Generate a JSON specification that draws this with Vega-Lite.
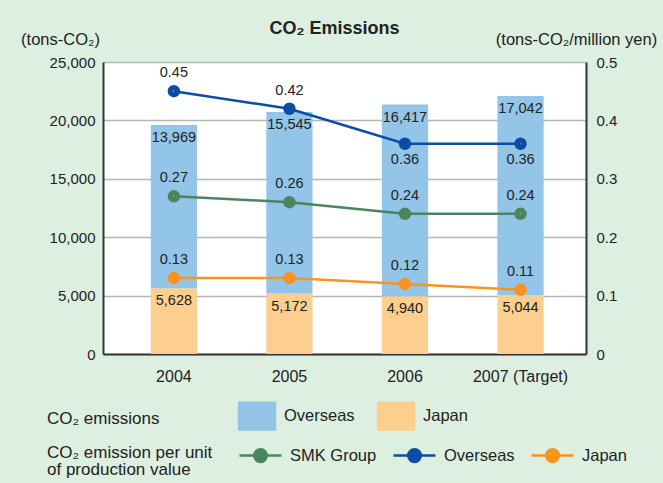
{
  "$schema": "https://vega.github.io/schema/vega-lite/v6.json",
  "width": 483,
  "height": 292,
  "autosize": {"type": "none"},
  "padding": {"left": 103, "top": 62, "right": 77, "bottom": 129},
  "background": "#ddefe1",
  "view": {"fill": "white", "stroke": null},
  "config": {
    "font": "Liberation Sans",
    "axis": {"labelColor": "#222", "titleColor": "#222", "labelFont": "Liberation Sans", "titleFont": "Liberation Sans"},
    "legend": {"padding": 0, "offset": 0}
  },
  "title": {
    "text": "CO₂ Emissions",
    "fontSize": 18,
    "fontWeight": "bold",
    "color": "#222",
    "anchor": "middle",
    "dx": -10,
    "dy": 11,
    "offset": 4
  },
  "datasets": {
    "emissions": [
      {"year": "2004", "region": "Japan", "tons": 5628},
      {"year": "2004", "region": "Overseas", "tons": 13969},
      {"year": "2005", "region": "Japan", "tons": 5172},
      {"year": "2005", "region": "Overseas", "tons": 15545},
      {"year": "2006", "region": "Japan", "tons": 4940},
      {"year": "2006", "region": "Overseas", "tons": 16417},
      {"year": "2007 (Target)", "region": "Japan", "tons": 5044},
      {"year": "2007 (Target)", "region": "Overseas", "tons": 17042}
    ],
    "intensity": [
      {"year": "2004", "series": "SMK Group", "value": 0.27},
      {"year": "2005", "series": "SMK Group", "value": 0.26},
      {"year": "2006", "series": "SMK Group", "value": 0.24},
      {"year": "2007 (Target)", "series": "SMK Group", "value": 0.24},
      {"year": "2004", "series": "Overseas", "value": 0.45},
      {"year": "2005", "series": "Overseas", "value": 0.42},
      {"year": "2006", "series": "Overseas", "value": 0.36},
      {"year": "2007 (Target)", "series": "Overseas", "value": 0.36},
      {"year": "2004", "series": "Japan", "value": 0.13},
      {"year": "2005", "series": "Japan", "value": 0.13},
      {"year": "2006", "series": "Japan", "value": 0.12},
      {"year": "2007 (Target)", "series": "Japan", "value": 0.11}
    ]
  },
  "layer": [
    {
      "data": {"name": "emissions"},
      "encoding": {
        "x": {
          "field": "year",
          "type": "ordinal",
          "scale": {"paddingInner": 0.6, "paddingOuter": 0.39, "align": 0.53},
          "axis": {
            "title": null,
            "labelAngle": 0,
            "labelFontSize": 16,
            "labelPadding": 14,
            "ticks": false,
            "domainColor": "#333",
            "domainWidth": 2
          }
        },
        "y": {
          "field": "tons",
          "type": "quantitative",
          "stack": "zero",
          "scale": {"domain": [0, 25000]},
          "axis": {
            "orient": "left",
            "values": [0, 5000, 10000, 15000, 20000, 25000],
            "labelExpr": "format(datum.value, ',.0f')",
            "grid": true,
            "gridColor": "#b5b5b5",
            "gridWidth": 1.5,
            "ticks": false,
            "domainColor": "#333",
            "domainWidth": 2,
            "labelFontSize": 15,
            "labelPadding": 8,
            "title": "(tons-CO₂)",
            "titleAngle": 0,
            "titleX": -43,
            "titleY": -23,
            "titleAlign": "center",
            "titleBaseline": "middle",
            "titleFontWeight": "normal",
            "titleFontSize": 16.5
          }
        },
        "order": {"field": "region", "sort": "ascending"}
      },
      "layer": [
        {
          "mark": {"type": "bar"},
          "encoding": {
            "fill": {
              "field": "region",
              "type": "nominal",
              "scale": {"domain": ["Overseas", "Japan"], "range": ["#93c5e9", "#fdcf8e"]},
              "legend": {
                "title": "CO₂ emissions",
                "orient": "none",
                "legendX": -56,
                "legendY": 339,
                "direction": "horizontal",
                "titleOrient": "left",
                "titleAnchor": "middle",
                "titleBaseline": "middle",
                "titlePadding": 82,
                "titleFontSize": 17,
                "titleFontWeight": "normal",
                "titleColor": "#222",
                "labelFontSize": 16.5,
                "labelColor": "#222",
                "symbolType": "M-1.3,-1H1.3V1H-1.3Z",
                "symbolSize": 870,
                "symbolStrokeWidth": 0,
                "symbolOpacity": 1,
                "labelOffset": 12,
                "columnPadding": 21,
                "encode": {"title": {"update": {"dy": {"value": 3}}}}
              }
            }
          }
        },
        {
          "mark": {"type": "text", "dy": 13, "fontSize": 14.5, "color": "#222", "baseline": "middle"},
          "encoding": {
            "text": {"field": "tons", "type": "quantitative", "format": ",.0f"}
          }
        }
      ]
    },
    {
      "data": {"name": "intensity"},
      "encoding": {
        "x": {"field": "year", "type": "ordinal"},
        "y": {
          "field": "value",
          "type": "quantitative",
          "scale": {"domain": [0, 0.5]},
          "axis": {
            "orient": "right",
            "values": [0, 0.1, 0.2, 0.3, 0.4, 0.5],
            "format": ".1~f",
            "grid": false,
            "ticks": false,
            "domainColor": "#333",
            "domainWidth": 2,
            "labelFontSize": 15,
            "labelPadding": 10,
            "title": "(tons-CO₂/million yen)",
            "titleAngle": 0,
            "titleX": -10,
            "titleY": -23,
            "titleAlign": "center",
            "titleBaseline": "middle",
            "titleFontWeight": "normal",
            "titleFontSize": 16.5
          }
        },
        "stroke": {
          "field": "series",
          "type": "nominal",
          "scale": {"domain": ["SMK Group", "Overseas", "Japan"], "range": ["#4a8560", "#0a4da2", "#f7941d"]},
          "legend": {
            "title": ["CO₂ emission per unit", "of production value"],
            "orient": "none",
            "legendX": -56,
            "legendY": 377,
            "direction": "horizontal",
            "titleOrient": "left",
            "titleAnchor": "middle",
            "titleBaseline": "middle",
            "titlePadding": 31,
            "titleFontSize": 17,
            "titleFontWeight": "normal",
            "titleColor": "#222",
            "titleLineHeight": 17,
            "labelFontSize": 16.5,
            "labelColor": "#222",
            "symbolType": "M-1.4,0H1.4M-0.42,0A0.42,0.42 0 1,0 0.42,0A0.42,0.42 0 1,0 -0.42,0",
            "symbolSize": 900,
            "symbolStrokeWidth": 2.5,
            "symbolOpacity": 1,
            "labelOffset": 13,
            "columnPadding": 11,
            "encode": {
              "symbols": {"update": {"fill": {"scale": "stroke", "field": "value"}}},
              "title": {"update": {"dy": {"value": 9}}}
            }
          }
        }
      },
      "layer": [
        {"mark": {"type": "line", "strokeWidth": 2.5}},
        {"mark": {"type": "point", "shape": "circle", "size": 30, "strokeWidth": 7, "filled": false, "opacity": 1}},
        {
          "transform": [{"filter": "!(datum.series === 'Overseas' && (datum.year === '2006' || datum.year === '2007 (Target)'))"}],
          "mark": {"type": "text", "dy": -18, "fontSize": 14.5, "color": "#222", "baseline": "middle"},
          "encoding": {"text": {"field": "value", "type": "quantitative", "format": ".2f"}, "stroke": {"value": null}}
        },
        {
          "transform": [{"filter": "datum.series === 'Overseas' && (datum.year === '2006' || datum.year === '2007 (Target)')"}],
          "mark": {"type": "text", "dy": 16, "fontSize": 14.5, "color": "#222", "baseline": "middle"},
          "encoding": {"text": {"field": "value", "type": "quantitative", "format": ".2f"}, "stroke": {"value": null}}
        }
      ]
    }
  ],
  "resolve": {"scale": {"y": "independent"}}
}
